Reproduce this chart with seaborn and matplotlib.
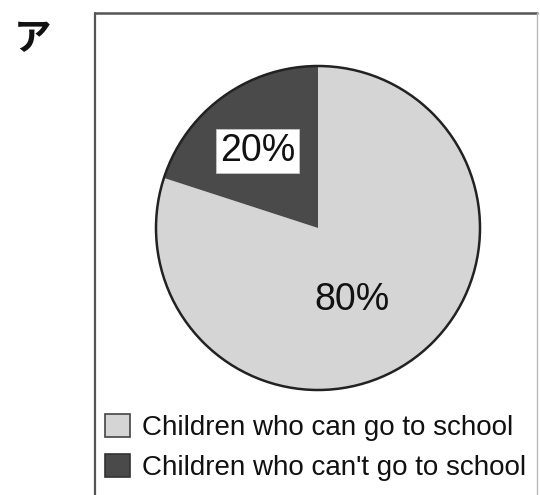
import matplotlib
matplotlib.use("Agg")
import matplotlib.pyplot as plt
from matplotlib.patches import Patch, Circle
from matplotlib.lines import Line2D
import seaborn as sns
import numpy as np

# ---- data ----
categories = ["Children who can go to school", "Children who can't go to school"]
values = [80, 20]
pct_labels = ["80%", "20%"]
panel_label = "ア"
colors = ["#d5d5d5", "#4a4a4a"]

sns.set_theme(style="white")
plt.rcParams['font.family'] = ['Liberation Sans', 'DejaVu Sans']

W, H = 540, 495
fig = plt.figure(figsize=(W / 100, H / 100), dpi=100)
fig.patch.set_facecolor("white")

def fx(px):
    return px / W
def fy(py):
    return 1 - py / H

# frame box (top, left, right; open at the bottom)
fig.add_artist(Line2D([fx(95), fx(95)], [fy(13), 0], color="#555555", lw=1.6, transform=fig.transFigure))
fig.add_artist(Line2D([fx(95), fx(537)], [fy(13), fy(13)], color="#555555", lw=1.8, transform=fig.transFigure))
fig.add_artist(Line2D([fx(537), fx(537)], [fy(13), 0], color="#bbbbbb", lw=1.0, transform=fig.transFigure))

# pie axes
cx, cy, r = 318, 228, 162
m = 1.05
half = r * m
ax = fig.add_axes([fx(cx - half), fy(cy + half), 2 * half / W, 2 * half / H])
wedges, _ = ax.pie(values, colors=colors, startangle=90, counterclock=False,
                   radius=1, wedgeprops=dict(linewidth=0))
ax.add_patch(Circle((0, 0), 1, fill=False, edgecolor="#222222", lw=1.8))
ax.set_xlim(-m, m)
ax.set_ylim(-m, m)
ax.set_aspect("equal")
ax.axis("off")

# percentage labels
ax.text(0.207, -0.445, pct_labels[0], ha="center", va="center", fontsize=27, color="#111111")
ax.text(-0.373, 0.475, pct_labels[1], ha="center", va="center", fontsize=27, color="#111111",
        bbox=dict(boxstyle="square,pad=0.1", facecolor="white", edgecolor="#cccccc", lw=0.5))

# panel label
fig.text(fx(33), fy(39), panel_label, ha="center", va="center", fontsize=27,
         fontweight="bold", family=['Noto Sans CJK JP', 'DejaVu Sans'], color="#111111")

# legend
handles = [Patch(facecolor=colors[0], edgecolor="#444444", lw=1.2),
           Patch(facecolor=colors[1], edgecolor="#333333", lw=1.2)]
leg = fig.legend(handles, categories, loc="upper left",
                 bbox_to_anchor=(fx(105), fy(414)), frameon=False,
                 prop=dict(size=20),
                 handlelength=0.9, handleheight=0.9,
                 handletextpad=0.45, labelspacing=0.45, borderpad=0, borderaxespad=0)
for t in leg.get_texts():
    t.set_color("#111111")

fig.savefig("out.png", dpi=100)
